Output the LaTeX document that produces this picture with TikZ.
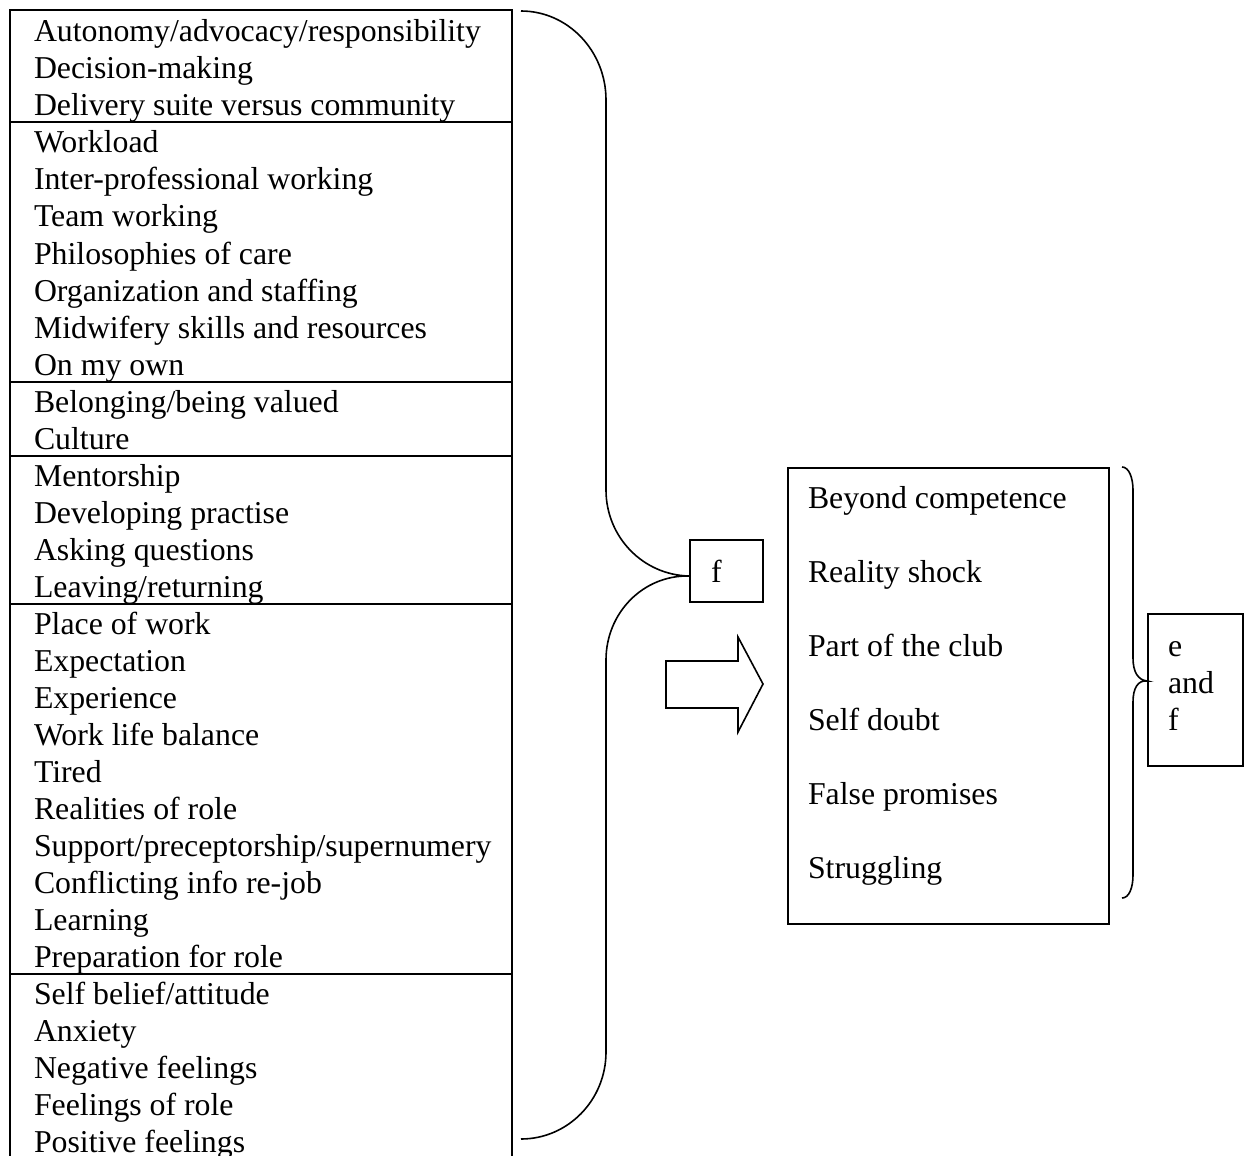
\documentclass[tikz,border=0pt]{standalone}
\usepackage{fontspec}
\setmainfont{Liberation Serif}
\usetikzlibrary{positioning, calc}
\tikzset{
  every picture/.style={line width=1pt},
  item/.style={anchor=base west, inner sep=0pt, font=\fontsize{15.9}{18.5}\selectfont},
  frame/.style={draw, line width=1pt, inner sep=0pt, anchor=north west},
  brace/.style={draw, line width=0.8pt},
  blockarrow/.style={draw, line width=0.8pt},
}
\begin{document}
\begin{tikzpicture}[x=0.5pt, y=-0.5pt]
  \useasboundingbox (0,0) rectangle (1248,1156);
  % left list of codes
  \draw (10,1156) -- (10,10) -- (512,10) -- (512,1156);
  \foreach \k in {2,9,11,15,25} {\draw (10,{48.5+37*\k}) -- (512,{48.5+37*\k});}
  \foreach \txt [count=\i from 0] in {Autonomy/advocacy/responsibility, Decision-making, Delivery suite versus community,
      Workload, Inter-professional working, Team working, Philosophies of care, Organization and staffing,
      Midwifery skills and resources, On my own, Belonging/being valued, Culture,
      Mentorship, Developing practise, Asking questions, Leaving/returning,
      Place of work, Expectation, Experience, Work life balance, Tired, Realities of role,
      Support/preceptorship/supernumery, Conflicting info re-job, Learning, Preparation for role,
      Self belief/attitude, Anxiety, Negative feelings, Feelings of role, Positive feelings} {
    \node[item] (row\i) at (33,{42+37*\i}) {\txt};
  }
  % boxes
  \node[frame, minimum width=36.5pt, minimum height=31pt] (f) at (689,539) {};
  \node[item] (flabel) at (710,582) {f};
  \node[frame, minimum width=160.5pt, minimum height=228pt] (themes) at (787,467) {};
  \foreach \txt [count=\i from 0] in {Beyond competence, Reality shock, Part of the club, Self doubt, False promises, Struggling} {
    \node[item] (theme\i) at (807,{508+74*\i}) {\txt};
  }
  \node[frame, minimum width=47.5pt, minimum height=76pt] (ef) at (1147,613) {};
  \foreach \txt [count=\i from 0] in {e, and, f} {
    \node[item] (ef\i) at (1167,{656+37*\i}) {\txt};
  }
  % large brace into f
  \coordinate (btop) at (521,11);
  \coordinate (bbot) at (521,1139);
  \draw[brace] (btop) .. controls (568,11) and (606,51) .. (606,100) -- (606,490)
    .. controls (606,537) and (643,575) .. ([yshift=-2.5pt]f.west)
    .. controls (643,575) and (606,613) .. (606,660) -- (606,1052)
    .. controls (606,1100) and (568,1139) .. (bbot);
  % small brace into e and f
  \coordinate (stop) at (1122,467);
  \coordinate (sbot) at (1122,898);
  \draw[brace] (stop) .. controls (1129,467) and (1133,478) .. (1133,490) -- (1133,658)
    .. controls (1133,672) and (1138,680) .. ([yshift=4.5pt]ef.west)
    .. controls (1138,680) and (1133,688) .. (1133,702) -- (1133,875)
    .. controls (1133,888) and (1129,898) .. (sbot);
  % block arrow
  \draw[blockarrow] (666,661) -- (738,661) -- (738,637) -- (763,684) -- (738,732) -- (738,708) -- (666,708) -- cycle;
\end{tikzpicture}
\end{document}
